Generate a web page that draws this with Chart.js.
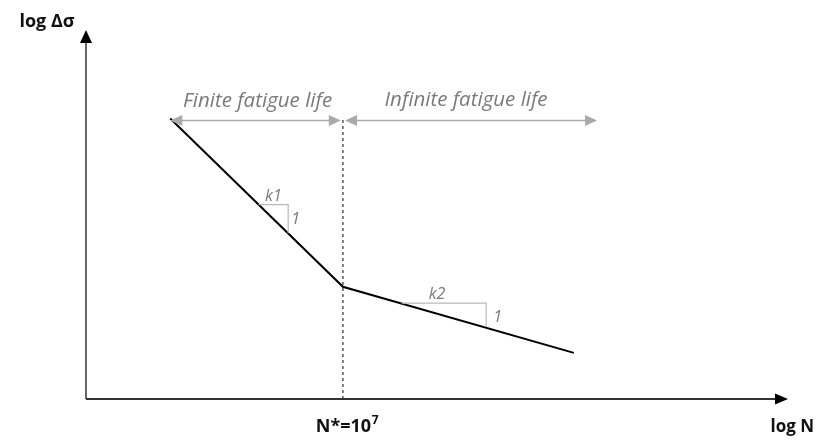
<!DOCTYPE html>
<html>
<head>
<meta charset="utf-8">
<script src="https://cdn.jsdelivr.net/npm/chart.js@4/dist/chart.umd.min.js"></script>
<style>
html,body{margin:0;padding:0;background:#fff;}
#wrap{width:817px;height:441px;}
</style>
</head>
<body>
<div id="wrap"><canvas id="c" width="817" height="441"></canvas></div>
<script>
// S-N curve (log-log), abstract axis units
const curveX = [1.2, 3.66, 6.95];
const curveY = [7.6, 3.04, 1.25];
const kneeX = 3.66;           // N* = 10^7
const rangeY = 7.55;          // height of range arrows
const finiteRange = [1.2, 3.63];
const infiniteRange = [3.69, 7.28];
const tri1X = [2.46, 2.88, 2.88];
const tri1Y = [5.27, 5.27, 4.49];
const tri2X = [4.5, 5.7, 5.7];
const tri2Y = [2.6, 2.6, 1.95];
const axisMax = [10, 10];
const labels = {
  yAxis: 'log Δσ', xAxis: 'log N', knee: 'N*=10', kneeExp: '7',
  finite: 'Finite fatigue life', infinite: 'Infinite fatigue life',
  k1: 'k1', k2: 'k2', one: '1'
};

const pts = (xs, ys) => xs.map((x, i) => ({x, y: ys[i]}));
const FONT = '"Open Sans"';

const annot = {
  id: 'annot',
  afterDatasetsDraw(chart) {
    const ctx = chart.ctx, xs = chart.scales.x, ys = chart.scales.y;
    const X = v => xs.getPixelForValue(v), Y = v => ys.getPixelForValue(v);
    const x0 = X(0), y0 = Y(0), x1 = X(axisMax[0]), y1 = Y(axisMax[1]);
    ctx.save();
    // axes
    ctx.strokeStyle = '#333'; ctx.fillStyle = '#000';
    ctx.lineWidth = 1.5;
    ctx.beginPath(); ctx.moveTo(x0, y0); ctx.lineTo(x0, y1 + 10); ctx.stroke();
    ctx.beginPath(); ctx.moveTo(x0 - 6, y1 + 13); ctx.lineTo(x0, y1); ctx.lineTo(x0 + 6, y1 + 13); ctx.closePath(); ctx.fill();
    ctx.lineWidth = 2;
    ctx.beginPath(); ctx.moveTo(x0, y0); ctx.lineTo(x1 - 10, y0); ctx.stroke();
    ctx.beginPath(); ctx.moveTo(x1 - 13, y0 - 5.5); ctx.lineTo(x1, y0); ctx.lineTo(x1 - 13, y0 + 5.5); ctx.closePath(); ctx.fill();

    // range arrowheads
    ctx.fillStyle = '#aaaaaa';
    const head = (tipX, dir) => {
      const ty = Y(rangeY);
      ctx.beginPath(); ctx.moveTo(tipX, ty); ctx.lineTo(tipX + dir * 12, ty - 5.5); ctx.lineTo(tipX + dir * 12, ty + 5.5); ctx.closePath(); ctx.fill();
    };
    head(X(finiteRange[0]), 1); head(X(finiteRange[1]), -1);
    head(X(infiniteRange[0]), 1); head(X(infiniteRange[1]), -1);

    // bold labels
    ctx.fillStyle = '#111';
    ctx.font = `bold 18px ${FONT}`;
    ctx.textAlign = 'center'; ctx.textBaseline = 'middle';
    ctx.fillText(labels.yAxis, x0 - 39, y1 - 8);
    ctx.font = `bold 17px ${FONT}`;
    ctx.textAlign = 'right';
    ctx.fillText(labels.xAxis, chart.width - 3, y0 + 28);
    ctx.font = `bold 18px ${FONT}`;
    const kx = X(kneeX);
    const w1 = ctx.measureText(labels.knee).width;
    ctx.font = `bold 12px ${FONT}`;
    const w2 = ctx.measureText(labels.kneeExp).width;
    const start = kx + 4 - (w1 + w2) / 2;
    ctx.textAlign = 'left';
    ctx.font = `bold 18px ${FONT}`;
    ctx.fillText(labels.knee, start, y0 + 28);
    ctx.font = `bold 12px ${FONT}`;
    ctx.fillText(labels.kneeExp, start + w1 + 0.5, y0 + 22);

    // italic gray labels
    ctx.fillStyle = '#7a7a7a';
    ctx.font = `italic 20.5px ${FONT}`;
    ctx.textAlign = 'center'; ctx.textBaseline = 'alphabetic';
    ctx.fillText(labels.finite, (X(finiteRange[0]) + X(finiteRange[1])) / 2 + 2, Y(rangeY) - 13);
    ctx.fillText(labels.infinite, (X(infiniteRange[0]) + X(infiniteRange[1])) / 2 - 5, Y(rangeY) - 14);

    ctx.font = `italic 16px ${FONT}`;
    ctx.fillText(labels.k1, (X(tri1X[0]) + X(tri1X[1])) / 2, Y(tri1Y[0]) - 4);
    ctx.fillText(labels.k2, (X(tri2X[0]) + X(tri2X[1])) / 2 - 7, Y(tri2Y[0]) - 4);
    ctx.textAlign = 'left'; ctx.textBaseline = 'middle';
    ctx.fillText(labels.one, X(tri1X[1]) + 3, (Y(tri1Y[1]) + Y(tri1Y[2])) / 2 + 1);
    ctx.fillText(labels.one, X(tri2X[1]) + 7, (Y(tri2Y[1]) + Y(tri2Y[2])) / 2 + 2);
    ctx.restore();
  }
};

new Chart(document.getElementById('c'), {
  type: 'scatter',
  data: {
    datasets: [
      { data: pts(tri1X, tri1Y), borderColor: '#b8b8b8', borderWidth: 1.2, showLine: true, pointRadius: 0 },
      { data: pts(tri2X, tri2Y), borderColor: '#b8b8b8', borderWidth: 1.2, showLine: true, pointRadius: 0 },
      { data: pts([finiteRange[0] + 0.1, finiteRange[1] - 0.1], [rangeY, rangeY]), borderColor: '#aaaaaa', borderWidth: 1.5, showLine: true, pointRadius: 0 },
      { data: pts([infiniteRange[0] + 0.1, infiniteRange[1] - 0.1], [rangeY, rangeY]), borderColor: '#aaaaaa', borderWidth: 1.5, showLine: true, pointRadius: 0 },
      { data: pts([kneeX, kneeX], [0, curveY[0]]), borderColor: '#000', borderWidth: 1, borderDash: [3, 3], showLine: true, pointRadius: 0 },
      { data: pts(curveX, curveY), borderColor: '#000', borderWidth: 2, showLine: true, pointRadius: 0, tension: 0 }
    ]
  },
  options: {
    responsive: false,
    animation: false,
    layout: { padding: { left: 86, right: 29, top: 30, bottom: 42 } },
    plugins: { legend: { display: false }, tooltip: { enabled: false } },
    scales: {
      x: { type: 'linear', min: 0, max: axisMax[0], display: false },
      y: { type: 'linear', min: 0, max: axisMax[1], display: false }
    }
  },
  plugins: [annot]
});
</script>
</body>
</html>
